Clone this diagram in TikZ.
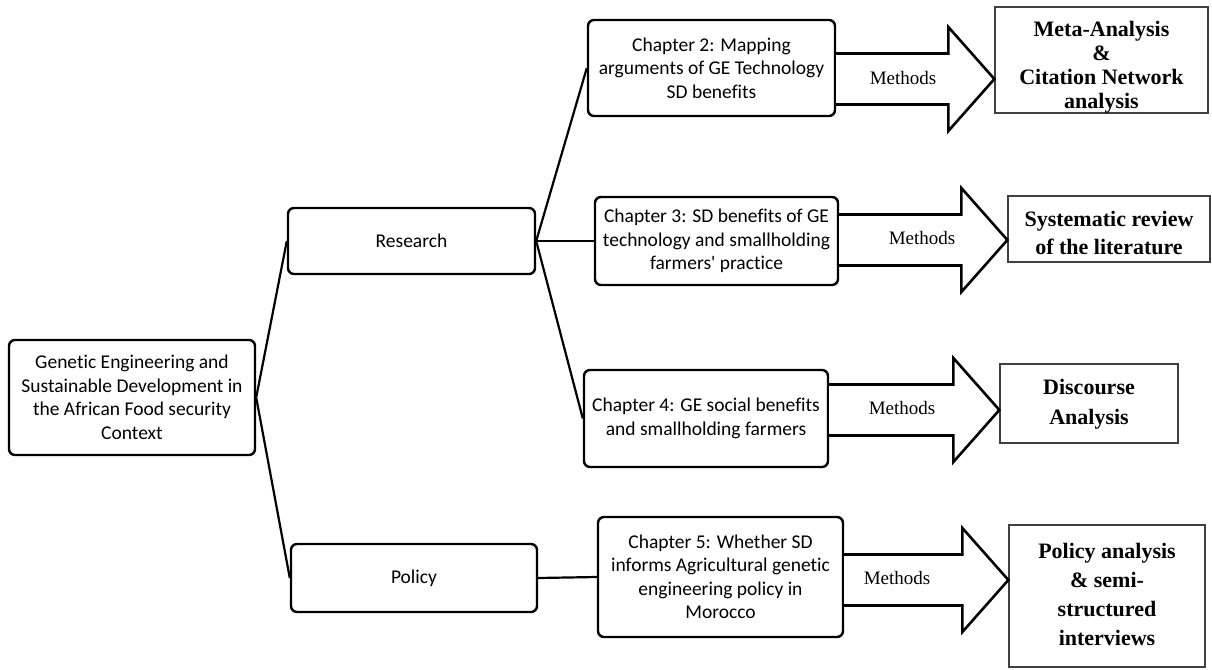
\documentclass[tikz,border=0pt]{standalone}
\usepackage{fontspec}
\setmainfont{Liberation Serif}
\newfontfamily\calib{Carlito}[Ligatures=NoCommon]
\usetikzlibrary{calc}

% wide outlined arrow from a chapter box to its method box
% #1 chapter node, #2 method node, #3 vertical position of the arrow axis, #4 tag
\newcommand\methodarrow[4]{%
  \path (#2.west |- 0,#3) coordinate (tip#4);
  \draw[blockarrow] (#1.east |- 0,#3-25.5)
    -- ($(tip#4)+(-46,-25.5)$) -- ($(tip#4)+(-46,-52)$)
    -- (tip#4)
    -- ($(tip#4)+(-46,52)$) -- ($(tip#4)+(-46,25.5)$)
    -- (#1.east |- 0,#3+25.5);
}

\begin{document}
\begin{tikzpicture}[x=1pt,y=-1pt,
  topic/.style={draw=black, line width=2.4pt, rounded corners=6pt, fill=white,
    align=center, inner sep=0pt, font=\calib\fontsize{19.5}{23.5}\selectfont},
  methodbox/.style={draw=black!75, line width=1.3pt, fill=white},
  methodtext/.style={align=center, inner sep=0pt, font=\bfseries\fontsize{22}{24}\selectfont},
  link/.style={line width=2.2pt},
  blockarrow/.style={line width=2.6pt, fill=white, line join=miter},
  methlabel/.style={font=\fontsize{19}{22}\selectfont}
]
\useasboundingbox (0,0) rectangle (1212,669);

% main topic and the two strands
\node[topic, minimum width=246pt, minimum height=115pt] (root) at (132,397.5)
  {Genetic Engineering and\\Sustainable Development in\\the African Food security\\Context};
\node[topic, minimum width=247pt, minimum height=66pt] (research) at (411.5,241) {Research};
\node[topic, minimum width=246pt, minimum height=68pt] (policy) at (414,578) {Policy};

% chapters
\node[topic, minimum width=247pt, minimum height=96pt] (ch2) at (711.5,68)
  {Chapter 2: Mapping\\arguments of GE Technology\\SD benefits};
\node[topic, minimum width=243pt, minimum height=88pt] (ch3) at (716.5,241)
  {Chapter 3: SD benefits of GE\\technology and smallholding\\farmers' practice};
\node[topic, minimum width=244pt, minimum height=97pt] (ch4) at (706,418.5)
  {Chapter 4: GE social benefits\\and smallholding farmers};
\node[topic, minimum width=245pt, minimum height=120pt] (ch5) at (720.5,577)
  {Chapter 5: Whether SD\\informs Agricultural genetic\\engineering policy in\\Morocco};

% methods: frames
\node[methodbox, minimum width=213pt, minimum height=106pt] (meta) at (1101.5,60) {};
\node[methodbox, minimum width=202pt, minimum height=66pt] (sysrev) at (1109,229) {};
\node[methodbox, minimum width=178pt, minimum height=79pt] (disc) at (1089,403.5) {};
\node[methodbox, minimum width=196pt, minimum height=142pt] (polan) at (1107,596) {};

% methods: texts
\node[methodtext] (metatext) at (1101.5,67) {Meta-Analysis\\\&\\Citation Network\\analysis};
\node[methodtext, font=\bfseries\fontsize{22}{28}\selectfont] (sysrevtext) at (1109,233)
  {Systematic review\\of the literature};
\node[methodtext, font=\bfseries\fontsize{22}{30}\selectfont] (disctext) at (1089,404)
  {Discourse\\Analysis};
\node[methodtext, font=\bfseries\fontsize{22}{29}\selectfont] (polantext) at (1107,594)
  {Policy analysis\\\& semi-\\structured\\interviews};

% tree links
\draw[link] (root.east) -- (research.west);
\draw[link] (root.east) -- (policy.west);
\draw[link] (research.east) -- (ch2.west);
\draw[link] (research.east) -- (ch3.west);
\draw[link] (research.east) -- (ch4.west);
\draw[link] (policy.east) -- (ch5.west);

% method arrows
\methodarrow{ch2}{meta}{79}{a}
\methodarrow{ch3}{sysrev}{240}{b}
\methodarrow{ch4}{disc}{410}{c}
\methodarrow{ch5}{polan}{580}{d}

\node[methlabel] (m2) at (903,78) {Methods};
\node[methlabel] (m3) at (922,238) {Methods};
\node[methlabel] (m4) at (902,408) {Methods};
\node[methlabel] (m5) at (897,578) {Methods};
\end{tikzpicture}
\end{document}
